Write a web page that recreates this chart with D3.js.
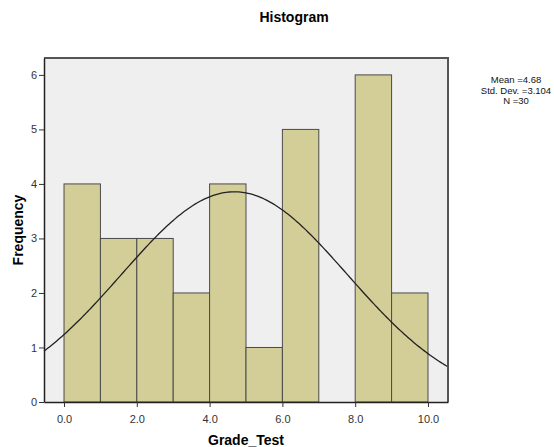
<!DOCTYPE html>
<html>
<head>
<meta charset="utf-8">
<script src="https://cdn.jsdelivr.net/npm/d3@7"></script>
<style>
  body { margin: 0; background: #fff; }
  svg text { font-family: "Liberation Sans", Arial, sans-serif; }
</style>
</head>
<body>
<svg id="chart" width="554" height="447"></svg>
<script>
// histogram bins (Grade_Test) and their counts
const binStarts = [0, 1, 2, 3, 4, 5, 6, 7, 8, 9];
const binWidth = 1;
const counts = [4, 3, 3, 2, 4, 1, 5, 0, 6, 2];
const xTicks = [0, 2, 4, 6, 8, 10];
const yTicks = [0, 1, 2, 3, 4, 5, 6];
const statsLines = ["Mean =4.68", "Std. Dev. =3.104", "N =30"];
const mean = 4.68, sd = 3.104, n = 30;

const margin = { top: 58, left: 44, right: 106, bottom: 45 };
const width = 554 - margin.left - margin.right;
const height = 447 - margin.top - margin.bottom;

const svg = d3.select("#chart");
const g = svg.append("g").attr("transform", `translate(${margin.left},${margin.top})`);

const x = d3.scaleLinear().domain([-0.55, 10.55]).range([0, width]);
const y = d3.scaleLinear().domain([0, 6.31]).range([height, 0]);

// plot background
g.append("rect")
  .attr("width", width).attr("height", height)
  .attr("fill", "#efefef");

// bars
g.selectAll(".bar")
  .data(binStarts.map((s, i) => ({ s, c: counts[i] })).filter(d => d.c > 0))
  .enter().append("rect")
  .attr("x", d => x(d.s))
  .attr("y", d => y(d.c))
  .attr("width", d => x(d.s + binWidth) - x(d.s))
  .attr("height", d => y(0) - y(d.c))
  .attr("fill", "#d3ce98")
  .attr("stroke", "#4a4a4a")
  .attr("stroke-width", 1);

// normal curve from the shown stats
const curvePts = d3.range(-0.55, 10.56, 0.05).map(v => ({
  v,
  f: n * binWidth / (sd * Math.sqrt(2 * Math.PI)) * Math.exp(-0.5 * ((v - mean) / sd) ** 2)
}));
g.append("path")
  .datum(curvePts)
  .attr("fill", "none")
  .attr("stroke", "#222")
  .attr("stroke-width", 1.3)
  .attr("d", d3.line().x(d => x(d.v)).y(d => y(d.f)));

// top / right frame
g.append("path")
  .attr("d", `M0,0H${width}V${height}`)
  .attr("fill", "none")
  .attr("stroke", "#555")
  .attr("stroke-width", 2);

// axes
const xAxis = g.append("g")
  .attr("transform", `translate(0,${height})`)
  .call(d3.axisBottom(x).tickValues(xTicks).tickFormat(d3.format(".1f")).tickSize(5).tickSizeOuter(0));
const yAxis = g.append("g")
  .call(d3.axisLeft(y).tickValues(yTicks).tickFormat(d3.format("d")).tickSize(5).tickSizeOuter(0));

[xAxis, yAxis].forEach(a => {
  a.select(".domain").attr("stroke", "#222").attr("stroke-width", 1.5);
  a.selectAll(".tick line").attr("stroke", "#333");
  a.selectAll(".tick text").attr("fill", "#333").style("font-size", "11px");
});
xAxis.selectAll(".tick text").attr("dy", "1.2em");
yAxis.selectAll(".tick text").attr("dx", "1px");

// titles
svg.append("text")
  .attr("x", 294).attr("y", 22)
  .attr("text-anchor", "middle")
  .style("font-size", "14px").style("font-weight", "bold")
  .text("Histogram");

svg.append("text")
  .attr("x", margin.left + width / 2).attr("y", 445)
  .attr("text-anchor", "middle")
  .style("font-size", "14px").style("font-weight", "bold")
  .text("Grade_Test");

svg.append("text")
  .attr("transform", `translate(23,${margin.top + height / 2}) rotate(-90)`)
  .attr("text-anchor", "middle")
  .style("font-size", "14px").style("font-weight", "bold")
  .text("Frequency");

// stats box
svg.append("g").selectAll("text")
  .data(statsLines)
  .enter().append("text")
  .attr("x", 516).attr("y", (d, i) => 83 + i * 10.5)
  .attr("text-anchor", "middle")
  .style("font-size", "9.5px")
  .attr("fill", "#111")
  .text(d => d);
</script>
</body>
</html>
